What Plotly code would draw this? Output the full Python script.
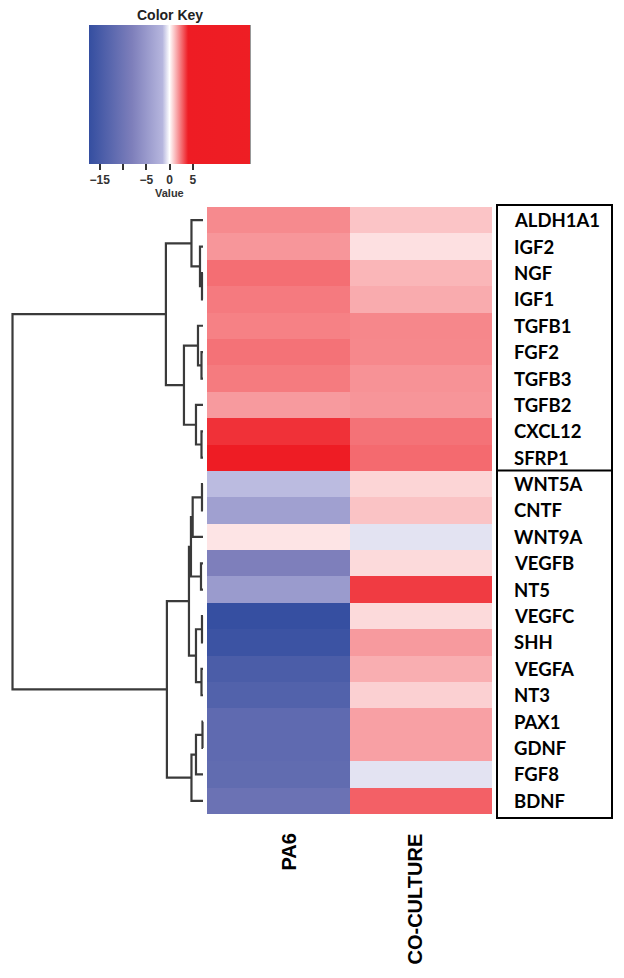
import plotly.graph_objects as go

# page body has an 8px margin; figure is sized to fit the 624x978 window
OFF = 8
W, H = 624 - OFF, 978 - OFF

# ---------------- data ----------------
genes = ["ALDH1A1", "IGF2", "NGF", "IGF1", "TGFB1", "FGF2", "TGFB3", "TGFB2",
         "CXCL12", "SFRP1", "WNT5A", "CNTF", "WNT9A", "VEGFB", "NT5", "VEGFC",
         "SHH", "VEGFA", "NT3", "PAX1", "GDNF", "FGF8", "BDNF"]
conditions = ["PA6", "CO-CULTURE"]
pa6 = [2.06, 1.85, 2.56, 2.34, 2.22, 2.48, 2.33, 1.78, 3.63, 5.0,
       -1.4, -4.05, 0.48, -8.0, -4.75, -17.05, -16.3, -14.4, -13.5,
       -11.9, -11.9, -11.7, -10.4]
coculture = [1.04, 0.55, 1.29, 1.48, 2.11, 2.10, 1.92, 1.87, 2.48, 2.63,
             0.74, 1.06, -0.58, 0.65, 3.45, 0.65, 1.78, 1.43, 0.83,
             1.67, 1.67, -0.58, 2.8]

# row dendrogram (linkage: leaves 0..22, merged nodes numbered from 23)
merge_left = [2, 1, 0, 5, 4, 8, 7, 27, 25, 10, 32, 13, 33, 15, 17, 36, 35, 19, 40, 41, 39, 31]
merge_right = [3, 23, 24, 6, 26, 9, 28, 29, 30, 11, 12, 14, 34, 16, 18, 37, 38, 20, 21, 22, 42, 43]
merge_height = [1.0, 3.0, 11.5, 1.5, 5.0, 1.5, 7.0, 19.0, 37.0, 1.0, 10.3, 2.0, 12.0,
                1.0, 1.5, 7.0, 14.0, 0.5, 7.0, 11.5, 36.0, 190.0]

key_ticks = [-15, -10, -5, 0, 5]
key_ticktext = ["\u221215", "", "\u22125", "0", "5"]
zmin, zmax = -17.3, 17.3


def px(x):
    return (x - OFF) / W


def py(y):
    return 1 - (y - OFF) / H


def norm(v):
    return (v - zmin) / (zmax - zmin)


colorscale = [
    [0.0, "rgb(52,78,160)"],
    [norm(-8.0), "rgb(126,127,187)"],
    [norm(-1.5), "rgb(182,182,222)"],
    [norm(0.0), "rgb(255,255,255)"],
    [norm(4.0), "rgb(238,28,36)"],
    [1.0, "rgb(238,30,36)"],
]

z = [[a, b] for a, b in zip(pa6, coculture)]
n = len(genes)

fig = go.Figure()
fig.add_trace(go.Heatmap(
    z=z, x=[0, 1], y=list(range(n)), zmin=zmin, zmax=zmax,
    colorscale=colorscale, xaxis="x", yaxis="y", hoverinfo="skip",
    colorbar=dict(
        orientation="h", thicknessmode="pixels", thickness=139,
        lenmode="pixels", len=161, x=px(169.5), xanchor="center",
        y=py(25), yanchor="top", ypad=0, xpad=0, outlinewidth=0,
        ticks="outside", ticklen=6, tickwidth=1.5, tickcolor="#333",
        tickvals=key_ticks, ticktext=key_ticktext,
        tickfont=dict(family="Liberation Sans", size=12, color="#333", weight="bold"),
    ),
))

# dendrogram path
pos = {i: float(i) for i in range(n)}
hgt = {i: 0.0 for i in range(n)}
dx, dy = [], []
for k, (l, r, h) in enumerate(zip(merge_left, merge_right, merge_height)):
    node = n + k
    dx += [hgt[l], h, h, hgt[r], None]
    dy += [pos[l], pos[l], pos[r], pos[r], None]
    pos[node] = (pos[l] + pos[r]) / 2
    hgt[node] = h
fig.add_trace(go.Scatter(x=dx, y=dy, mode="lines", xaxis="x2", yaxis="y",
                         line=dict(color="#3a3a3a", width=2.2), hoverinfo="skip",
                         showlegend=False))

fig.update_layout(
    width=W, height=H, margin=dict(l=0, r=0, t=0, b=0),
    paper_bgcolor="white", plot_bgcolor="rgba(0,0,0,0)", showlegend=False,
    xaxis=dict(domain=[px(207), px(492)], range=[-0.5, 1.5], visible=False, fixedrange=True),
    yaxis=dict(domain=[py(814), py(207)], range=[n - 0.5, -0.5], visible=False, fixedrange=True),
    xaxis2=dict(domain=[px(8), px(205)], range=[194.5, -2.0], visible=False,
                anchor="y", fixedrange=True),
)

ann = []
for i, g in enumerate(genes):
    ann.append(dict(x=px(512), xref="paper", y=i, yref="y", text="<b>%s</b>" % g,
                    showarrow=False, xanchor="left", yanchor="middle",
                    font=dict(family="Lato", size=18.5, color="black")))
col_x = [288, 414]
for c, cx in zip(conditions, col_x):
    ann.append(dict(x=px(cx), xref="paper", y=py(832), yref="paper",
                    text="<b>%s</b>" % c, textangle=-90, showarrow=False,
                    xanchor="center", yanchor="top",
                    font=dict(family="Liberation Sans", size=20, color="black")))
ann.append(dict(x=px(170), y=py(15), xref="paper", yref="paper", text="<b>Color Key</b>",
                showarrow=False, xanchor="center", yanchor="middle",
                font=dict(family="Liberation Sans", size=14, color="#222")))
ann.append(dict(x=px(169), y=py(193), xref="paper", yref="paper", text="<b>Value</b>",
                showarrow=False, xanchor="center", yanchor="middle",
                font=dict(family="Liberation Sans", size=11, color="#333")))
fig.update_layout(annotations=ann)

shapes = [
    dict(type="rect", xref="paper", yref="paper", x0=px(497), x1=px(612),
         y0=py(818), y1=py(205), line=dict(color="black", width=2)),
    dict(type="line", xref="paper", yref="paper", x0=px(497), x1=px(612),
         y0=py(470.5), y1=py(470.5), line=dict(color="black", width=2)),
    dict(type="line", xref="paper", yref="paper", x0=px(250), x1=px(250),
         y0=py(164), y1=py(25), line=dict(color="#333", width=1)),
]
fig.update_layout(shapes=shapes)

fig.write_html("out.html")
